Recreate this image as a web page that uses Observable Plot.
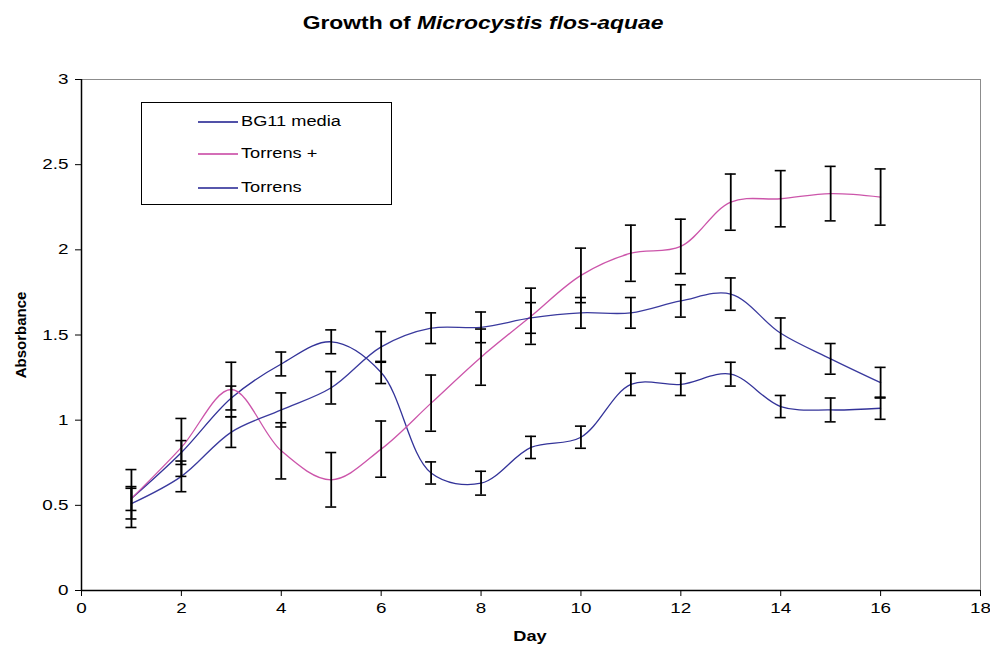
<!DOCTYPE html>
<html><head><meta charset="utf-8">
<script src="https://cdn.jsdelivr.net/npm/d3@7"></script>
<script src="https://cdn.jsdelivr.net/npm/@observablehq/plot@0.6"></script>
<style>
body{margin:0;background:#fff;font-family:"Liberation Sans",Arial,sans-serif;}
#wrap{position:relative;width:990px;height:647px;overflow:hidden;background:#fff;}
#title{position:absolute;left:0;top:0;width:966px;height:45px;text-align:center;}
#title span{display:inline-block;font-size:18px;font-weight:bold;transform:scaleX(1.27);margin-top:13px;color:#000;}
#chart{position:absolute;left:0;top:45px;}
#ylab{position:absolute;left:20px;top:335px;transform:translate(-50%,-50%) rotate(-90deg);font-size:15px;font-weight:bold;white-space:nowrap;}
#xlab{position:absolute;left:530px;top:628px;line-height:16px;transform:translateX(-50%) scaleX(1.3);font-size:14px;font-weight:bold;}
#legend{position:absolute;left:141px;top:102px;width:251px;height:103px;box-sizing:border-box;border:1px solid #000;background:#fff;}
.row{position:absolute;left:0;height:18px;width:240px;}
.row .ln{position:absolute;left:56px;top:9px;width:40px;height:2px;}
.row .tx{position:absolute;left:99px;top:0;font-size:14px;line-height:18px;transform:scaleX(1.3);transform-origin:left center;white-space:nowrap;}
</style>
</head><body>
<div id="wrap">
  <div id="title"><span>Growth of <i>Microcystis flos-aquae</i></span></div>
  <div id="chart"></div>
  <div id="ylab">Absorbance</div>
  <div id="xlab">Day</div>
  <div id="legend"></div>
</div>
<script>
const days = [1,2,3,4,5,6,7,8,9,10,11,12,13,14,15,16];

const bg11 =        [0.54,0.81,1.13,1.33,1.46,1.28,0.69,0.63,0.84,0.90,1.21,1.21,1.27,1.08,1.06,1.07];
const bg11Err =     [0.07,0.07,0.07,0.07,0.07,0.065,0.065,0.07,0.065,0.065,0.065,0.065,0.07,0.065,0.07,0.065];

const torrensPlus =    [0.54,0.84,1.18,0.82,0.65,0.83,1.10,1.37,1.61,1.85,1.98,2.02,2.28,2.30,2.33,2.31];
const torrensPlusErr = [0.17,0.17,0.16,0.165,0.16,0.165,0.165,0.165,0.165,0.16,0.165,0.16,0.165,0.165,0.16,0.165];

const torrens =     [0.51,0.67,0.93,1.06,1.19,1.43,1.54,1.545,1.60,1.63,1.63,1.70,1.74,1.51,1.36,1.22];
const torrensErr =  [0.09,0.09,0.09,0.10,0.095,0.09,0.09,0.09,0.09,0.09,0.09,0.095,0.095,0.09,0.09,0.09];

const seriesNames  = ["BG11 media","Torrens +","Torrens"];
const seriesColors = ["#333399","#cc55aa","#3a3a9e"];
const seriesValues = [bg11, torrensPlus, torrens];
const seriesErrors = [bg11Err, torrensPlusErr, torrensErr];

const yTicks = [0,0.5,1,1.5,2,2.5,3];
const xTicks = [0,2,4,6,8,10,12,14,16,18];

const rows = [];
seriesNames.forEach((name, s) => {
  days.forEach((d, i) => rows.push({series: name, day: d, value: seriesValues[s][i], err: seriesErrors[s][i]}));
});

const capHalf = 0.11;
const chart = Plot.plot({
  width: 990, height: 602,
  marginTop: 34, marginBottom: 57, marginLeft: 81, marginRight: 10,
  style: {fontFamily: '"Liberation Sans", Arial, sans-serif', fontSize: "14.5px", background: "white", color: "#000"},
  x: {domain: [0, 18]},
  y: {domain: [0, 3]},
  color: {domain: seriesNames, range: seriesColors},
  marks: [
    Plot.frame({stroke: "#8c8c8c"}),
    Plot.axisY({ticks: yTicks, tickFormat: d => String(d), tickSize: 6, tickPadding: 7, label: null}),
    Plot.axisX({ticks: xTicks, tickFormat: d => String(d), tickSize: 6, tickPadding: 6, label: null}),
    Plot.ruleY([0], {stroke: "#000", strokeWidth: 1.5}),
    Plot.ruleX([0], {stroke: "#000", strokeWidth: 1.5}),
    Plot.line(rows, {x: "day", y: "value", z: "series", stroke: "series", curve: "catmull-rom", strokeWidth: 1.3}),
    Plot.ruleX(rows, {x: "day", y1: d => d.value - d.err, y2: d => d.value + d.err, stroke: "#000", strokeWidth: 1.8}),
    Plot.ruleY(rows, {y: d => d.value - d.err, x1: d => d.day - capHalf, x2: d => d.day + capHalf, stroke: "#000", strokeWidth: 1.6}),
    Plot.ruleY(rows, {y: d => d.value + d.err, x1: d => d.day - capHalf, x2: d => d.day + capHalf, stroke: "#000", strokeWidth: 1.6})
  ]
});
document.getElementById("chart").appendChild(chart);

// stretch tick labels horizontally like the reference
chart.querySelectorAll('g[aria-label="x-axis tick label"] text, g[aria-label="y-axis tick label"] text').forEach(t => {
  const tr = t.getAttribute("transform");
  if (tr && tr.includes("translate")) {
    t.setAttribute("transform", tr + " scale(1.3,1)");
  } else {
    const x = +(t.getAttribute("x") || 0), y = +(t.getAttribute("y") || 0);
    t.setAttribute("x", 0); t.setAttribute("y", 0);
    t.setAttribute("transform", `translate(${x},${y}) scale(1.3,1)` + (tr ? " " + tr : ""));
  }
});

// legend
const legend = document.getElementById("legend");
const rowTops = [9, 41, 75];
seriesNames.forEach((name, s) => {
  const r = document.createElement("div");
  r.className = "row";
  r.style.top = rowTops[s] + "px";
  const ln = document.createElement("div");
  ln.className = "ln";
  ln.style.background = seriesColors[s];
  ln.style.opacity = 0.85;
  const tx = document.createElement("div");
  tx.className = "tx";
  tx.textContent = name;
  r.appendChild(ln); r.appendChild(tx);
  legend.appendChild(r);
});
</script>
</body></html>
